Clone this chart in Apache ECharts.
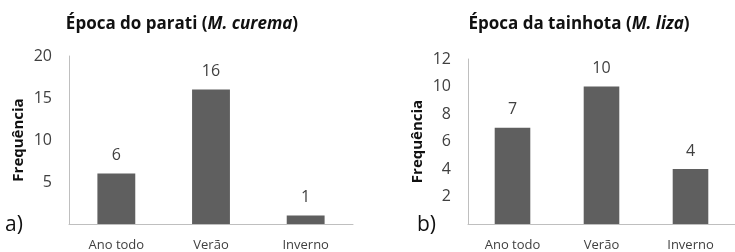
<!DOCTYPE html>
<html>
<head>
<meta charset="utf-8">
<script src="https://cdn.jsdelivr.net/npm/echarts@6/dist/echarts.min.js"></script>
<style>
  html, body { margin: 0; padding: 0; background: #fff; }
  #chart { width: 735px; height: 252px; }
</style>
</head>
<body>
<div id="chart"></div>
<script>
// dados
const categories = ['Ano todo', 'Verão', 'Inverno']
const parati = [6, 16, 1]
const tainhota = [7, 10, 4]

const FONT = '"Open Sans", "Noto Sans", sans-serif'
const BAR = '#5f5f5f'
const AXIS = '#bfbfbf'
const TXT = '#404040'

const chart = echarts.init(document.getElementById('chart'), null, { renderer: 'canvas' })

function titleRich(a, b) {
  return {
    text: `{b|${a} (}{i|${b}}{b|)}`,
    textStyle: {
      fontSize: 17,
      rich: {
        b: { fontFamily: FONT, fontWeight: 'bold', fontSize: 17, color: '#111' },
        i: { fontFamily: FONT, fontWeight: 'bold', fontStyle: 'italic', fontSize: 17, color: '#111' },
      },
    },
  }
}

function yAxis(grid, max, interval) {
  return {
    type: 'value',
    gridIndex: grid,
    min: 0,
    max: max,
    interval: interval,
    name: 'Frequência',
    nameLocation: 'middle',
    nameGap: 43,
    nameTextStyle: { fontFamily: FONT, fontWeight: 'bold', fontSize: 15, color: '#111' },
    axisLine: { show: true, lineStyle: { color: AXIS, width: 1 } },
    axisTick: { show: false },
    splitLine: { show: false },
    axisLabel: {
      margin: 17,
      fontFamily: FONT,
      fontSize: 16,
      color: TXT,
      formatter: (v) => (v === 0 ? '' : v),
    },
  }
}

function xAxis(grid) {
  return {
    type: 'category',
    gridIndex: grid,
    data: categories,
    axisLine: { show: true, lineStyle: { color: AXIS, width: 1 } },
    axisTick: { show: false },
    axisLabel: { margin: 15, fontFamily: FONT, fontSize: 13, color: TXT },
  }
}

function barSeries(idx, data) {
  return {
    type: 'bar',
    xAxisIndex: idx,
    yAxisIndex: idx,
    data: data,
    barWidth: '40%',
    itemStyle: { color: BAR },
    label: {
      show: true,
      position: 'top',
      distance: 10,
      fontFamily: FONT,
      fontSize: 16,
      color: TXT,
    },
  }
}

chart.setOption({
  animation: false,
  title: [
    { ...titleRich('Época do parati', 'M. curema'), left: 177, top: 11, textAlign: 'center' },
    { ...titleRich('Época da tainhota', 'M. liza'), left: 574, top: 11, textAlign: 'center' },
    { text: 'a)', left: 0, top: 210, textStyle: { fontFamily: FONT, fontWeight: 'normal', fontSize: 21, color: '#111' } },
    { text: 'b)', left: 412, top: 210, textStyle: { fontFamily: FONT, fontWeight: 'normal', fontSize: 21, color: '#111' } },
  ],
  grid: [
    { left: 69, top: 56, width: 284, height: 171 },
    { left: 468, top: 59, width: 273, height: 167 },
  ],
  xAxis: [xAxis(0), xAxis(1)],
  yAxis: [yAxis(0, 20, 5), yAxis(1, 12, 2)],
  series: [barSeries(0, parati), barSeries(1, tainhota)],
})
</script>
</body>
</html>
